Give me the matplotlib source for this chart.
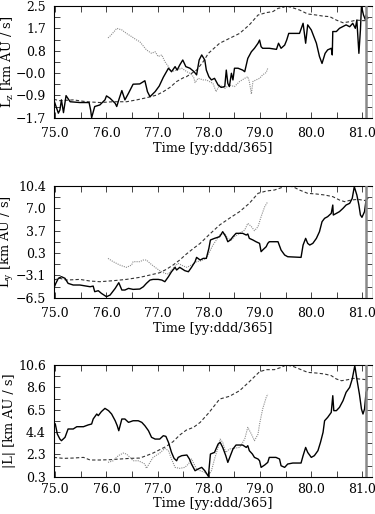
import matplotlib
matplotlib.use("Agg")
import matplotlib.pyplot as plt
import numpy as np

plt.rcParams['font.family'] = ['DejaVu Serif', 'Liberation Serif']
plt.rcParams['mathtext.fontset'] = 'dejavuserif'

# ---------------- data ----------------
XTICKS = [75.0, 76.0, 77.0, 78.0, 79.0, 80.0, 81.0]
XLABEL = "Time [yy:ddd/365]"
END_TIME = 81.07

# Panel 1: Lz
lz_solid_t = [74.97, 75.06, 75.09, 75.12, 75.16, 75.21, 75.29, 75.48, 75.66, 75.69, 75.71, 75.77, 75.87, 75.97, 76.0,
              76.07, 76.17, 76.2, 76.25, 76.3, 76.36, 76.43, 76.52, 76.65, 76.75, 76.8, 76.85, 76.95, 77.03, 77.11,
              77.21, 77.27, 77.34, 77.38, 77.43, 77.49, 77.55, 77.63, 77.71, 77.76, 77.81, 77.86, 77.92, 77.95, 78.0,
              78.05, 78.11, 78.18, 78.24, 78.31, 78.34, 78.37, 78.4, 78.44, 78.47, 78.5, 78.57, 78.66, 78.7, 78.76,
              78.83, 78.89, 78.96, 78.99, 79.02, 79.05, 79.18, 79.32, 79.36, 79.41, 79.48, 79.52, 79.56, 79.77, 79.84,
              79.89, 79.93, 80.0, 80.1, 80.16, 80.21, 80.27, 80.32, 80.39, 80.41, 80.42, 80.49, 80.55, 80.68, 80.75,
              80.81, 80.86, 80.89, 80.93, 80.96, 80.98, 81.02, 81.06, 81.07, 81.1]
lz_solid_v = [-1.03, -1.53, -1.41, -1.03, -1.51, -0.87, -1.10, -1.13, -1.13, -1.41, -1.70, -1.28, -1.22, -1.03, -0.88,
              -0.97, -1.16, -1.28, -0.97, -0.68, -1.03, -0.78, -0.44, -0.43, -0.31, -0.72, -0.91, -0.72, -0.51, -0.18,
              0.16, 0.03, 0.22, 0.09, 0.28, 0.47, 0.22, 0.16, 0.03, -0.09, 0.47, 0.66, 0.47, 0.09, -0.16,
              -0.28, -0.22, -0.47, -0.56, -0.53, 0.09, -0.41, -0.53, -0.03, -0.28, 0.16, 0.16, 0.09, 0.03, 0.53,
              0.78, 0.91, 1.10, 1.22, 0.97, 0.91, 0.91, 0.87, 1.10, 0.91, 1.03, 1.22, 1.47, 1.47, 1.85,
              1.10, 1.79, 1.60, 1.10, 0.60, 0.34, 0.72, 0.85, 0.91, 0.66, 1.54, 1.54, 1.66, 1.79, 1.72,
              1.85, 1.66, 1.97, 0.72, 1.60, 2.50, 2.16, 1.97, 2.16, 2.04]
lz_dash_t = [74.97, 75.09, 75.35, 75.61, 75.87, 76.13, 76.39, 76.59, 76.78, 76.98, 77.11, 77.24, 77.37, 77.5, 77.56,
             77.76, 77.89, 77.99, 78.21, 78.4, 78.6, 78.79, 78.96, 79.12, 79.25, 79.35, 79.45, 79.51, 79.61, 79.77,
             79.93, 80.1, 80.23, 80.36, 80.49, 80.62, 80.75, 80.88, 81.01, 81.1]
lz_dash_v = [-1.01, -1.06, -1.03, -1.10, -1.13, -1.10, -1.10, -1.03, -0.95, -0.85, -0.72, -0.56, -0.34, -0.20, -0.16,
             0.09, 0.41, 0.72, 1.10, 1.28, 1.47, 1.79, 2.16, 2.25, 2.29, 2.41, 2.45, 2.50, 2.45, 2.35,
             2.20, 2.16, 2.12, 2.10, 1.97, 1.87, 1.91, 1.97, 1.95, 1.95]
lz_dot_t = [76.03, 76.07, 76.15, 76.2, 76.3, 76.39, 76.49, 76.59, 76.65, 76.78, 76.88, 76.95, 77.01, 77.08, 77.14,
            77.21, 77.27, 77.37, 77.47, 77.57, 77.63, 77.7, 77.73, 77.79, 77.89, 77.95, 78.08, 78.14, 78.21, 78.31,
            78.4, 78.5, 78.6, 78.7, 78.76, 78.79, 78.83, 78.86, 78.92, 78.99, 79.05, 79.12, 79.15]
lz_dot_v = [1.30, 1.37, 1.54, 1.66, 1.60, 1.47, 1.35, 1.22, 1.16, 0.85, 0.72, 0.78, 0.60, 0.66, 0.41,
            0.22, 0.03, 0.09, 0.16, 0.03, -0.03, -0.16, -0.38, -0.22, -0.28, -0.28, -0.41, -0.72, -0.47, -0.60,
            -0.47, -0.53, -0.34, -0.22, -0.16, -0.34, -0.81, -0.34, -0.28, -0.22, -0.09, 0.00, 0.16]
LZ_LIM = (-1.7, 2.5)
LZ_LABELS = ["\u22121.7", "\u22120.9", "\u22120.0", "0.8", "1.7", "2.5"]
LZ_YLABEL = r"L$_{\rm z}$ [km AU / s]"

# Panel 2: Ly
ly_solid_t = [74.97, 75.01, 75.06, 75.12, 75.19, 75.25, 75.35, 75.48, 75.68, 75.74, 75.77, 75.84, 75.9, 76.0, 76.07,
              76.17, 76.24, 76.3, 76.36, 76.43, 76.52, 76.65, 76.72, 76.78, 76.85, 76.91, 77.01, 77.08, 77.14, 77.21,
              77.27, 77.34, 77.37, 77.43, 77.53, 77.6, 77.66, 77.73, 77.76, 77.83, 77.89, 77.95, 78.0, 78.03, 78.11,
              78.21, 78.27, 78.33, 78.37, 78.42, 78.47, 78.53, 78.66, 78.73, 78.76, 78.79, 78.86, 78.92, 78.99, 79.02,
              79.05, 79.12, 79.15, 79.18, 79.35, 79.41, 79.48, 79.54, 79.8, 79.84, 79.89, 79.93, 79.97, 80.03, 80.1,
              80.16, 80.21, 80.26, 80.32, 80.39, 80.42, 80.43, 80.49, 80.55, 80.62, 80.68, 80.75, 80.8, 80.84, 80.89,
              80.93, 80.96, 80.99, 81.04, 81.07, 81.1]
ly_solid_v = [-5.09, -4.33, -3.57, -3.32, -3.57, -4.33, -4.58, -4.58, -4.84, -4.74, -5.59, -5.44, -5.84, -6.35, -6.10,
              -5.09, -4.23, -5.34, -5.34, -5.09, -5.24, -5.19, -4.84, -4.33, -3.83, -3.73, -3.73, -3.83, -4.08, -3.32,
              -2.57, -1.91, -2.31, -1.91, -2.41, -2.57, -1.91, -1.05, -0.40, -0.80, -0.55, -0.55, 0.97, 2.23, 2.48,
              2.73, 3.49, 2.73, 1.97, 2.23, 2.73, 3.24, 3.24, 2.98, 3.14, 2.48, 2.23, 1.97, 1.72, 0.46,
              0.71, 1.22, 1.72, 1.97, 1.97, 0.71, -0.04, -0.30, -0.40, 1.47, 2.48, 1.72, 1.47, 1.72, 2.48,
              3.49, 5.00, 5.51, 5.76, 6.26, 7.52, 6.01, 6.26, 6.52, 7.02, 7.52, 7.78, 8.53, 10.30, 9.04,
              7.52, 6.01, 5.66, 6.52, 8.28, 8.53]
ly_dash_t = [74.97, 75.09, 75.22, 75.48, 75.68, 75.87, 76.13, 76.39, 76.65, 76.85, 77.04, 77.17, 77.3, 77.43, 77.56,
             77.7, 77.83, 78.0, 78.21, 78.4, 78.6, 78.79, 78.96, 79.12, 79.28, 79.38, 79.5, 79.64, 79.77, 79.93,
             80.1, 80.26, 80.42, 80.55, 80.65, 80.78, 80.91, 81.07]
ly_dash_v = [-3.83, -3.57, -3.83, -3.73, -3.98, -4.08, -3.93, -3.73, -3.42, -3.07, -2.72, -2.21, -1.56, -0.80, 0.10,
             0.97, 1.72, 3.00, 4.50, 5.51, 6.52, 7.78, 9.29, 9.64, 9.79, 10.05, 10.40, 10.30, 9.79, 9.29,
             9.19, 9.04, 8.79, 8.28, 8.03, 8.28, 8.38, 8.18]
ly_dot_t = [76.03, 76.13, 76.26, 76.39, 76.49, 76.52, 76.65, 76.72, 76.78, 76.85, 76.95, 77.04, 77.14, 77.21, 77.27,
            77.34, 77.4, 77.5, 77.57, 77.66, 77.76, 77.83, 77.92, 77.95, 78.08, 78.21, 78.31, 78.37, 78.44, 78.5,
            78.6, 78.7, 78.76, 78.83, 78.89, 78.96, 79.02, 79.09, 79.15]
ly_dot_v = [-0.55, -1.05, -1.56, -1.91, -1.56, -1.05, -1.05, -0.80, -0.80, -1.30, -1.91, -2.41, -2.82, -2.92, -2.31,
            -1.71, -1.30, -1.71, -1.91, -1.56, -1.05, -0.95, -0.65, -0.55, 1.47, 2.98, 3.24, 2.48, 2.23, 2.73,
            3.24, 3.74, 4.75, 4.25, 3.64, 4.25, 5.76, 7.27, 8.03]
LY_LIM = (-6.5, 10.4)
LY_LABELS = ["\u22126.5", "\u22123.1", "0.3", "3.7", "7.0", "10.4"]
LY_YLABEL = r"L$_{\rm y}$ [km AU / s]"

# Panel 3: |L|
lm_solid_t = [74.97, 75.0, 75.04, 75.09, 75.12, 75.19, 75.25, 75.35, 75.42, 75.55, 75.64, 75.71, 75.74, 75.81, 75.84,
              75.9, 75.97, 76.04, 76.1, 76.17, 76.21, 76.24, 76.3, 76.36, 76.43, 76.52, 76.62, 76.69, 76.75, 76.82,
              76.88, 76.95, 77.04, 77.11, 77.16, 77.21, 77.27, 77.32, 77.37, 77.4, 77.47, 77.57, 77.62, 77.66, 77.73,
              77.79, 77.86, 77.92, 77.99, 78.03, 78.11, 78.18, 78.22, 78.27, 78.33, 78.37, 78.42, 78.47, 78.53, 78.66,
              78.73, 78.76, 78.79, 78.85, 78.89, 78.96, 78.99, 79.02, 79.09, 79.15, 79.18, 79.31, 79.38, 79.41, 79.48,
              79.54, 79.64, 79.8, 79.84, 79.89, 79.93, 80.0, 80.06, 80.13, 80.18, 80.23, 80.26, 80.32, 80.39, 80.42,
              80.44, 80.49, 80.55, 80.62, 80.68, 80.75, 80.8, 80.85, 80.89, 80.94, 80.98, 81.01, 81.04, 81.07, 81.1]
lm_solid_v = [5.31, 5.16, 4.23, 3.77, 3.62, 3.93, 4.70, 4.70, 4.91, 4.91, 5.07, 5.16, 5.62, 6.08, 5.93,
              6.30, 6.60, 6.39, 6.08, 5.46, 5.00, 4.54, 5.62, 5.62, 5.31, 5.46, 5.46, 5.31, 5.00, 4.54,
              3.93, 3.77, 3.77, 4.08, 4.02, 3.47, 2.54, 1.99, 1.77, 2.08, 2.24, 2.30, 1.93, 1.47, 0.85,
              1.01, 1.16, 0.85, 0.33, 2.39, 2.54, 3.31, 3.47, 3.00, 2.24, 1.62, 2.24, 2.85, 3.22, 3.22,
              3.00, 3.16, 2.70, 2.39, 2.08, 1.93, 1.77, 1.16, 1.38, 1.62, 2.08, 2.08, 1.93, 1.31, 1.16,
              1.47, 1.56, 1.56, 2.24, 3.00, 2.54, 2.08, 2.24, 2.70, 3.47, 4.39, 5.46, 5.77, 6.23, 7.77,
              6.39, 6.39, 6.69, 7.31, 8.08, 8.54, 9.31, 10.54, 9.31, 7.92, 6.54, 6.08, 6.54, 8.08, 8.39]
lm_dash_t = [74.97, 75.16, 75.35, 75.55, 75.68, 75.87, 76.07, 76.26, 76.46, 76.65, 76.78, 76.91, 77.04, 77.17, 77.3,
             77.43, 77.56, 77.7, 77.83, 78.0, 78.21, 78.4, 78.6, 78.79, 78.99, 79.12, 79.28, 79.41, 79.51, 79.64,
             79.77, 79.93, 80.1, 80.26, 80.39, 80.49, 80.59, 80.72, 80.82, 80.94, 81.07]
lm_dash_v = [2.08, 1.99, 2.02, 2.08, 1.84, 1.84, 1.87, 1.93, 1.99, 2.02, 2.24, 2.48, 2.79, 3.10, 3.53,
             4.14, 4.60, 4.85, 5.31, 6.20, 7.46, 7.71, 8.23, 9.06, 9.98, 10.17, 10.17, 10.38, 10.60, 10.48,
             10.23, 9.92, 9.86, 9.77, 9.62, 9.31, 9.15, 9.25, 9.37, 9.31, 9.25]
lm_dot_t = [76.03, 76.13, 76.23, 76.33, 76.39, 76.46, 76.52, 76.62, 76.69, 76.75, 76.78, 76.85, 76.91, 77.04, 77.14,
            77.21, 77.27, 77.34, 77.43, 77.53, 77.6, 77.66, 77.71, 77.76, 77.83, 77.92, 77.99, 78.05, 78.11, 78.18,
            78.22, 78.27, 78.33, 78.4, 78.47, 78.6, 78.7, 78.76, 78.83, 78.89, 78.96, 78.99, 79.05, 79.12, 79.15]
lm_dot_v = [1.62, 1.77, 2.24, 2.48, 2.39, 2.08, 1.77, 1.77, 1.62, 1.47, 1.07, 1.62, 2.08, 2.48, 2.91,
            2.70, 1.93, 1.16, 1.07, 1.16, 1.47, 1.93, 1.47, 1.01, 0.85, 0.70, 0.40, 0.85, 1.93, 3.00,
            3.77, 3.47, 2.54, 2.85, 2.91, 3.00, 3.77, 4.85, 4.23, 3.62, 4.23, 5.16, 6.54, 7.62, 7.92]
LM_LIM = (0.3, 10.6)
LM_LABELS = ["0.3", "2.3", "4.4", "6.5", "8.6", "10.6"]
LM_YLABEL = r"|L| [km AU / s]"

# ---------------- plotting ----------------
W, H = 375, 514
fig = plt.figure(figsize=(W / 100, H / 100), dpi=100)

left = 53.5 / W
right = 372.0 / W
ax_w_px = 372.0 - 53.5
ax_h_px = 111.7
bottoms_px = [117.7, 297.7, 476.7]
xtick_pad_pt = [6.5, 6.5, 4.5]
xlabel_off_px = [24.0, 24.0, 20.0]
XLIM = (74.965, 81.186)

panels = [
    (lz_solid_t, lz_solid_v, lz_dash_t, lz_dash_v, lz_dot_t, lz_dot_v, LZ_LIM, LZ_LABELS, LZ_YLABEL),
    (ly_solid_t, ly_solid_v, ly_dash_t, ly_dash_v, ly_dot_t, ly_dot_v, LY_LIM, LY_LABELS, LY_YLABEL),
    (lm_solid_t, lm_solid_v, lm_dash_t, lm_dash_v, lm_dot_t, lm_dot_v, LM_LIM, LM_LABELS, LM_YLABEL),
]

FS = 9.3
TFS = 9.0
for i, (st, sv, dt, dv, ot, ov, ylim, ylabels, ylab) in enumerate(panels):
    b = 1 - bottoms_px[i] / H
    ax = fig.add_axes([left, b, right - left, ax_h_px / H])
    ax.plot(dt, dv, color='#333333', lw=0.8, ls=(0, (3, 2)), zorder=2)
    ax.plot(ot, ov, color='#8c8c8c', lw=0.8, ls=(0, (1, 1)), zorder=2)
    ax.plot(st, sv, color='black', lw=1.0, zorder=3)
    ax.axvline(END_TIME, color='#8a8a8a', lw=1.8, zorder=4)
    ax.set_xlim(*XLIM)
    ax.set_ylim(*ylim)
    yt = np.linspace(ylim[0], ylim[1], 6)
    ax.set_yticks(yt)
    ax.set_yticklabels(ylabels)
    ax.set_yticks((yt[:-1] + yt[1:]) / 2, minor=True)
    ax.set_xticks(XTICKS)
    ax.set_xticklabels(["%.1f" % x for x in XTICKS])
    ax.set_xticks([x + 0.5 for x in XTICKS[:-1]], minor=True)
    ax.tick_params(which='both', direction='in', top=True, right=True,
                   length=4.5, width=0.7, labelsize=TFS, color='#444444')
    ax.tick_params(axis='x', which='major', pad=xtick_pad_pt[i])
    ax.tick_params(axis='y', which='major', pad=5.5)
    for s in ['left', 'bottom', 'top']:
        ax.spines[s].set_linewidth(0.8)
    ax.spines['right'].set_linewidth(0.5)
    ax.spines['right'].set_color('#cccccc')
    ax.set_xlabel(XLABEL, fontsize=FS)
    ax.xaxis.set_label_coords(0.5, -xlabel_off_px[i] / ax_h_px)
    ax.set_ylabel(ylab, fontsize=FS)
    ax.yaxis.set_label_coords((16.5 - 53.5) / ax_w_px, 0.5)

fig.savefig("out.png", dpi=100)
